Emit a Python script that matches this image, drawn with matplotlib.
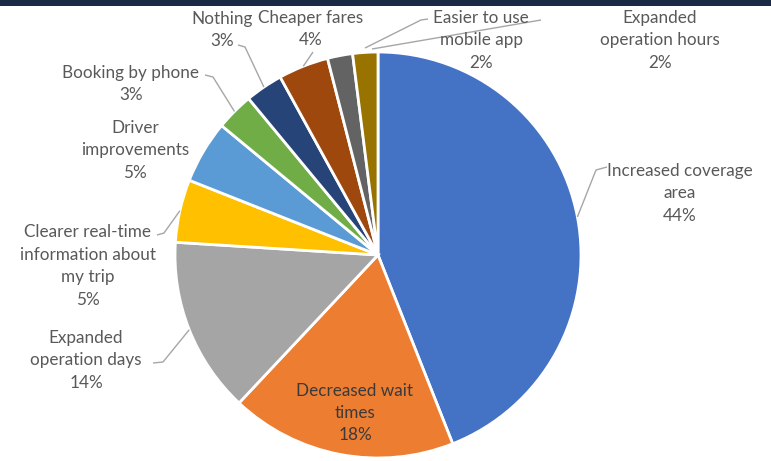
import matplotlib.pyplot as plt
import numpy as np
from matplotlib.patches import Rectangle

# data
labels = ['Increased coverage\narea', 'Decreased wait\ntimes', 'Expanded\noperation days',
          'Clearer real-time\ninformation about\nmy trip', 'Driver\nimprovements',
          'Booking by phone', 'Nothing', 'Cheaper fares', 'Easier to use\nmobile app',
          'Expanded\noperation hours']
values = [44, 18, 14, 5, 5, 3, 3, 4, 2, 2]
colors = ['#4472C4', '#ED7D31', '#A5A5A5', '#FFC000', '#5B9BD5',
          '#70AD47', '#264478', '#9E480E', '#636363', '#997300']

# label layout (pixel coords: text center, elbow points or None)
text_pos = [(680, 193), (355, 413), (86, 360), (88, 266), (135, 150),
            (131, 84), (222, 30), (311, 29), (481, 40), (660, 40)]
elbows = [[(607, 167), (596, 170)], None, [(153, 363), (163, 362)],
          [(157, 235), (164, 233)], None, [(205, 75), (213, 77)],
          [(238, 45), (245, 47)], [(313, 52)], [(428, 19), (421, 20)], [(541, 20)]]
anchors = [None, None, None, None, None, None, None, None,
           (365, 48), (372, 49)]

W, H = 771, 461
cx, cy, R = 378, 255, 203

plt.rcParams['font.family'] = ['Lato', 'DejaVu Sans']
fig = plt.figure(figsize=(W / 100, H / 100), dpi=100)
ax = fig.add_axes([0, 0, 1, 1])
wedges, _ = ax.pie(values, colors=colors, startangle=-90, counterclock=True,
                   center=(cx, cy), radius=R,
                   wedgeprops=dict(edgecolor='white', linewidth=2))
ax.set_xlim(0, W)
ax.set_ylim(H, 0)
ax.set_aspect('equal')
ax.axis('off')

for i, (w, lab, v) in enumerate(zip(wedges, labels, values)):
    tx, ty = text_pos[i]
    col = '#3a3a3a' if i == 1 else '#595959'
    ax.text(tx, ty, f'{lab}\n{v}%', ha='center', va='center', fontsize=12.3,
            color=col, linespacing=1.5)
    if elbows[i] is None:
        continue
    if anchors[i] is not None:
        ex, ey = anchors[i]
    else:
        mid = np.deg2rad((w.theta1 + w.theta2) / 2)
        ex = cx + R * np.cos(mid)
        ey = cy + R * np.sin(mid)
    pts = elbows[i] + [(ex, ey)]
    xs, ys = zip(*pts)
    ax.plot(xs, ys, color='#a6a6a6', lw=1.0, solid_capstyle='butt')

fig.patches.append(Rectangle((0, 1 - 6 / H), 1, 6 / H, transform=fig.transFigure,
                             facecolor='#1b2a44', edgecolor='none'))

fig.savefig('out.png', dpi=100, facecolor='white')
